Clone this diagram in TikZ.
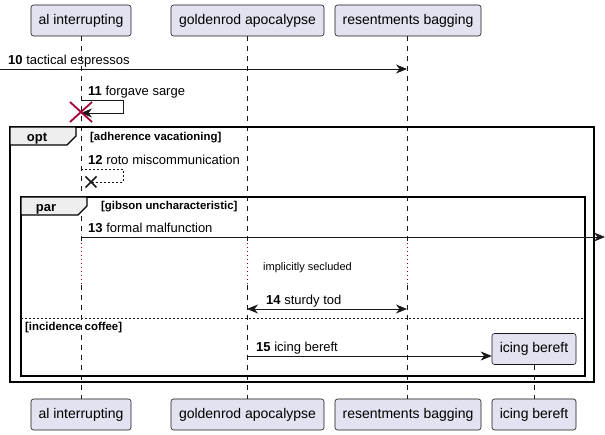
\documentclass[tikz,border=0pt]{standalone}
\usepackage{fontspec}
\setmainfont{Liberation Sans}
\usetikzlibrary{arrows.meta,calc}
\definecolor{pfill}{HTML}{E2E2F0}
\definecolor{pline}{HTML}{181818}
\definecolor{xred}{HTML}{A80036}
\definecolor{tabfill}{HTML}{EEEEEE}
\begin{document}
\begin{tikzpicture}[x=1pt,y=-1pt,
  part/.style={draw=pline, fill=pfill, rounded corners=2.5pt, line width=0.6pt, minimum height=31pt, inner sep=0pt, font=\fontsize{14}{16}\selectfont},
  life/.style={pline, line width=0.5pt, dash pattern=on 5pt off 5pt},
  delayline/.style={xred, line width=1pt, dash pattern=on 1pt off 3pt},
  msg/.style={pline, line width=0.8pt, -{Stealth[length=11pt,width=9pt,inset=3.5pt]}},
  dmsg/.style={pline, line width=0.8pt, dash pattern=on 2pt off 2pt},
  lbl/.style={anchor=base west, inner sep=0pt, font=\fontsize{13}{15}\selectfont},
  frm/.style={draw=black, line width=1.8pt},
  tabtxt/.style={anchor=base, inner sep=0pt, font=\bfseries\fontsize{13}{15}\selectfont},
  guard/.style={anchor=base west, inner sep=0pt, font=\bfseries\fontsize{11.4}{13}\selectfont},
  small/.style={anchor=base west, inner sep=0pt, font=\fontsize{11}{13}\selectfont},
]
\useasboundingbox (0,0) rectangle (605,435);

% participants
\node[part, minimum width=100pt] (a1) at (81,20.5) {al interrupting};
\node[part, minimum width=153pt] (g1) at (247.5,20.5) {goldenrod apocalypse};
\node[part, minimum width=146pt] (r1) at (408,20.5) {resentments bagging};
\node[part, minimum width=100pt] (a2) at (81,414.5) {al interrupting};
\node[part, minimum width=153pt] (g2) at (247.5,414.5) {goldenrod apocalypse};
\node[part, minimum width=146pt] (r2) at (408,414.5) {resentments bagging};
\node[part, minimum width=84pt] (i2) at (534,414.5) {icing bereft};

% lifelines
\foreach \t/\b/\x in {a1/a2/81, g1/g2/247, r1/r2/407}{
  \coordinate (\t d1) at (\x,243);
  \coordinate (\t d2) at (\x,285);
  \draw[life] (\t.south -| \x,0) -- (\t d1);
  \draw[delayline] (\t d1) -- (\t d2);
  \draw[life] (\t d2) -- (\b.north -| \x,0);
}

% frames
\draw[frm] (10,127) rectangle (594,382);
\draw[frm, fill=tabfill, line width=1.3pt] (10,127) -- (76,127) -- (76,136) -- (67,145) -- (10,145) -- cycle;
\node[tabtxt] (optl) at (37,142) {opt};
\node[guard] (optg) at (90,141) {[adherence vacationing]};

\draw[frm] (21,197) rectangle (585,376);
\draw[frm, fill=tabfill, line width=1.3pt] (21,197) -- (87,197) -- (87,206) -- (78,215) -- (21,215) -- cycle;
\node[tabtxt] (parl) at (46,212) {par};
\node[guard] (parg) at (101,210) {[gibson uncharacteristic]};

\draw[pline, line width=0.8pt, dash pattern=on 2pt off 2pt] (21,318) -- (585,318);
\node[guard] (elseg) at (25,331) {[incidence coffee]};

% message 10
\coordinate (m10s) at (0,69);
\coordinate (m10e) at (407,69);
\draw[msg] (m10s) -- (m10e);
\node[lbl] (l10) at (8,65) {\textbf{10} tactical espressos};

% message 11 (self, destroy)
\coordinate (m11s) at (81,100);
\coordinate (m11e) at (81,113);
\draw[msg] (m11s) -- (123,100) -- (123,113) -- (m11e);
\node[lbl] (l11) at (88,96) {\textbf{11} forgave sarge};
\coordinate (x11) at (81,112);
\draw[xred, line width=1.8pt] ($(x11)+(-11,-10)$) -- ($(x11)+(11,10)$);
\draw[xred, line width=1.8pt] ($(x11)+(-11,10)$) -- ($(x11)+(11,-10)$);

% message 12 (dashed self, lost)
\coordinate (m12s) at (81,169);
\coordinate (x12) at (91,182);
\draw[dmsg] (m12s) -- (123,169) -- (123,182) -- (x12);
\draw[pline, line width=1.6pt] ($(x12)+(-5.5,-5.5)$) -- ($(x12)+(5.5,5.5)$);
\draw[pline, line width=1.6pt] ($(x12)+(-5.5,5.5)$) -- ($(x12)+(5.5,-5.5)$);
\node[lbl] (l12) at (88,165) {\textbf{12} roto miscommunication};

% message 13
\coordinate (m13s) at (81,237);
\coordinate (m13e) at (605,237);
\draw[msg] (m13s) -- (m13e);
\node[lbl] (l13) at (88,233) {\textbf{13} formal malfunction};

% delay text
\node[small] (dly) at (263,271) {implicitly secluded};

% message 14
\coordinate (m14s) at (247,309);
\coordinate (m14e) at (407,309);
\draw[msg, {Stealth[length=11pt,width=9pt,inset=3.5pt]}-{Stealth[length=11pt,width=9pt,inset=3.5pt]}] (m14s) -- (m14e);
\node[lbl] (l14) at (266,305) {\textbf{14} sturdy tod};

% message 15 (create)
\node[part, minimum width=84pt] (ib) at (534,349) {icing bereft};
\draw[life] (ib.south) -- (i2.north);
\coordinate (m15s) at (247,356);
\draw[msg] (m15s) -- (ib.west |- m15s);
\node[lbl] (l15) at (256,352) {\textbf{15} icing bereft};
\end{tikzpicture}
\end{document}
